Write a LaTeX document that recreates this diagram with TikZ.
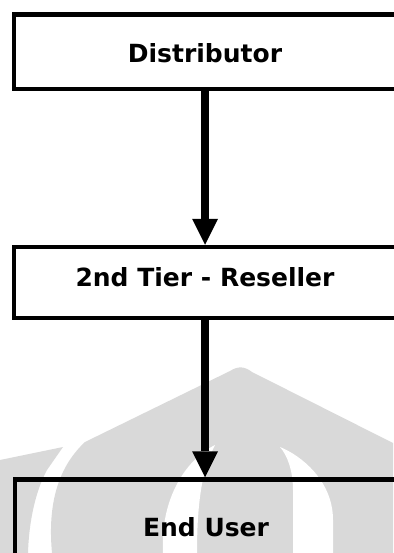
\documentclass[tikz,border=0pt]{standalone}
\usepackage{fontspec}
\setmainfont{DejaVu Sans}
\usetikzlibrary{arrows.meta}
\definecolor{markgray}{RGB}{217,217,217}
\tikzset{
  flowbox/.style={draw=black, line width=4.5pt, minimum width=382pt,
    minimum height=#1, inner sep=0pt,
    font=\fontsize{25}{28}\selectfont\bfseries},
  flowarrow/.style={draw=black, line width=7.5pt,
    -{Triangle[width=26pt,length=26pt,line width=0pt]}},
  watermark/.style={fill=markgray, draw=none},
}
\begin{document}
\begin{tikzpicture}[x=1pt,y=-1pt]
\useasboundingbox (0,0) rectangle (393,553);

% faint emblem behind the lower box
\path[watermark] (0,460) -- (63,447) -- (47,470)
  .. controls (36,490) and (29,520) .. (28,553) -- (0,553) -- cycle;
\path[watermark] (52,553) .. controls (48,510) and (55,470) .. (85,442)
  -- (230,371) .. controls (238,366) and (244,366) .. (252,372)
  -- (393,443) -- (393,553) -- cycle;
\fill[white] (163,553) .. controls (160,500) and (185,460) .. (215,445)
  .. controls (205,465) and (197,490) .. (197,553) -- cycle;
\fill[white] (280,447) .. controls (300,455) and (333,480) .. (333,520)
  -- (333,553) -- (293,553) -- (293,490)
  .. controls (293,470) and (287,455) .. (280,447) -- cycle;

% the three stages
\node[flowbox=74.5pt, text height=21.8pt, text depth=0pt] (dist) at (205,52) {Distributor};
\node[flowbox=71pt, text height=18.6pt, text depth=10.8pt] (resell) at (205,282.5) {2nd Tier - Reseller};
\node[flowbox=95pt] (user) at (206,527) {End User};

% flow between them
\draw[flowarrow] (dist.south) -- (resell.north);
\draw[flowarrow] (resell.south) -- (user.north -| resell.south);
\end{tikzpicture}
\end{document}
